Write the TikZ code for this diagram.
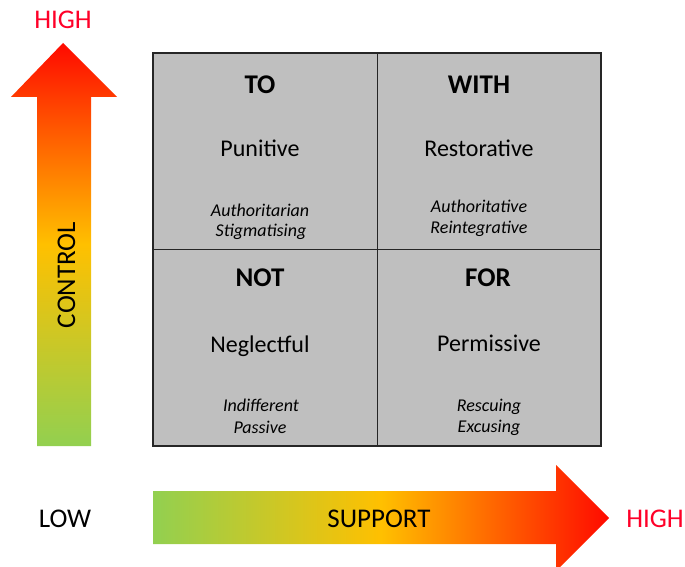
\documentclass[tikz,border=0pt]{standalone}
\usepackage{fontspec}
\setmainfont{Carlito}
\definecolor{cellgray}{RGB}{191,191,191}
\definecolor{lowgreen}{RGB}{146,208,80}
\definecolor{midgold}{RGB}{255,192,0}
\definecolor{highred}{RGB}{255,10,0}
\definecolor{labelred}{RGB}{255,0,40}
\tikzset{
  heading/.style={anchor=base,font=\fontsize{27}{32}\selectfont\bfseries},
  stance/.style={anchor=base,font=\fontsize{24}{29}\selectfont},
  trait/.style={anchor=base,font=\fontsize{18}{22}\selectfont\itshape},
  axislabel/.style={anchor=base,font=\fontsize{27}{32}\selectfont},
}

\begin{document}
\begin{tikzpicture}[x=1pt,y=-1pt]
    \useasboundingbox (0,0) rectangle (685,567);
    % control arrow
    \shade[top color=highred,bottom color=lowgreen,middle color=midgold]
      (37,446) -- (37,97) -- (11,97) -- (63,43) -- (117,97) -- (91,97) -- (91,446) -- cycle;
    % support arrow
    \shade[left color=lowgreen,right color=highred,middle color=midgold]
      (153,491) -- (556,491) -- (556,465) -- (609,518) -- (556,571) -- (556,544) -- (153,544) -- cycle;
    % window
    \node[draw=black!85,line width=1.6pt,fill=cellgray,minimum width=448pt,minimum height=393pt,inner sep=0pt] (grid) at (377,249.5) {};
    \draw[black!85,line width=0.9pt] (grid.north) -- (grid.south);
    \draw[black!85,line width=0.9pt] (grid.west) -- (grid.east);
    \node[heading] (to) at (260,94) {TO};
    \node[heading] (with) at (479,94) {WITH};
    \node[heading] (not) at (260,286) {NOT};
    \node[heading] (for) at (488,286) {FOR};
    \node[stance] (punitive) at (260,156) {Punitive};
    \node[stance] (restorative) at (479,156) {Restorative};
    \node[stance] (neglectful) at (260,352) {Neglectful};
    \node[stance] (permissive) at (489,351) {Permissive};
    \node[trait] (authoritarian) at (260,216) {Authoritarian};
    \node[trait] (stigmatising) at (261,236) {Stigmatising};
    \node[trait] (authoritative) at (479,212) {Authoritative};
    \node[trait] (reintegrative) at (479,233) {Reintegrative};
    \node[trait] (indifferent) at (261,411) {Indifferent};
    \node[trait] (passive) at (260,433) {Passive};
    \node[trait] (rescuing) at (489,411) {Rescuing};
    \node[trait] (excusing) at (489,432) {Excusing};
    % axes
    \node[axislabel,text=labelred] (controlhigh) at (63,29) {HIGH};
    \node[axislabel,rotate=90] (control) at (75,275) {CONTROL};
    \node[axislabel] (supportlow) at (65,527) {LOW};
    \node[axislabel] (support) at (379,527) {SUPPORT};
    \node[axislabel,text=labelred] (supporthigh) at (655,527) {HIGH};
  \end{tikzpicture}
\end{document}
